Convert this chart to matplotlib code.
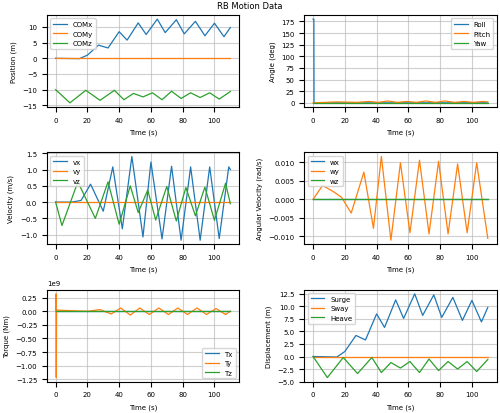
import matplotlib
matplotlib.use('Agg')
import matplotlib.pyplot as plt
from matplotlib.ticker import MultipleLocator

plt.rcParams['font.size'] = 5
plt.rcParams['lines.linewidth'] = 0.9
plt.rcParams['grid.alpha'] = 0.6

# key points (time s, value)
t_comx = [0, 15, 20, 27, 33, 40, 45, 52, 57, 64, 69, 76, 81, 88, 94, 100, 106, 110]
comx = [0, -0.1, 1, 4.2, 3.3, 8.5, 5.8, 11.3, 7.6, 12.5, 8.2, 12.3, 7.8, 11.8, 7.2, 11.2, 6.9, 9.8]
t_comz = [0, 9, 19, 28, 37, 43, 49, 55, 61, 67, 73, 79, 85, 91, 97, 103, 110]
comz = [-10, -14.2, -10.2, -13.4, -10.2, -13.2, -11.2, -12.3, -11, -13.2, -10.5, -12.8, -11, -12.5, -11, -13, -10.6]
t_line = [0, 110]
zero = [0, 0]

t_roll = [0, 0.5, 0.6, 110]
roll = [180, 180, 0, 0]
t_pitch = [0, 15, 28, 35, 41, 47, 53, 59, 65, 71, 77, 83, 89, 95, 101, 107, 110]
pitch = [0, 2, 1, 3, 1, 4, 1, 3, 1, 4, 1, 4, 1, 3, 1, 3, 2]

t_vx = [0, 10, 16, 22, 30, 36, 42, 48, 55, 60, 67, 73, 79, 85, 91, 97, 103, 109, 110]
vx = [0, 0, 0.05, 0.55, -0.28, 1.08, -0.82, 1.4, -1.07, 1.23, -1.13, 1.1, -1.17, 1.08, -1.17, 1.08, -1.12, 1.08, 1.0]
t_vz = [0, 4, 14, 25, 33, 40, 47, 52, 58, 63, 70, 76, 82, 88, 94, 100, 107, 110]
vz = [0, -0.72, 0.62, -0.5, 0.62, -0.68, 0.5, -0.32, 0.37, -0.55, 0.48, -0.58, 0.45, -0.42, 0.46, -0.56, 0.58, -0.05]

t_wy = [0, 6, 13, 18, 24, 32, 38, 43, 49, 55, 61, 67, 73, 79, 85, 91, 97, 103, 110]
wy = [0, 0.0037, 0.002, 0.0005, -0.0037, 0.0073, -0.0078, 0.0115, -0.011, 0.0098, -0.009, 0.0105,
      -0.0093, 0.0102, -0.0093, 0.0095, -0.009, 0.0098, -0.0105]

t_ty = [0, 0.2, 0.4, 0.6, 20, 28, 35, 41, 47, 53, 59, 65, 71, 77, 83, 89, 95, 101, 107, 110]
ty = [0, 0.32e9, -1.22e9, 0.02e9, 0, 0.03e9, -0.05e9, 0.06e9, -0.07e9, 0.06e9, -0.06e9, 0.06e9,
      -0.06e9, 0.06e9, -0.06e9, 0.06e9, -0.06e9, 0.05e9, -0.06e9, 0]

heave = [v + 10 for v in comz]

fig, axs = plt.subplots(3, 2, figsize=(5, 4.14), dpi=100)
fig.suptitle('RB Motion Data', fontsize=6, y=0.995)

ax = axs[0, 0]
ax.plot(t_comx, comx, label='COMx')
ax.plot(t_line, zero, label='COMy')
ax.plot(t_comz, comz, label='COMz')
ax.set_ylabel('Position (m)')
ax.yaxis.set_major_locator(MultipleLocator(5))
ax.legend(loc='upper left')

ax = axs[0, 1]
ax.plot(t_roll, roll, label='Roll')
ax.plot(t_pitch, pitch, label='Pitch')
ax.plot(t_line, zero, label='Yaw')
ax.set_ylabel('Angle (deg)')
ax.yaxis.set_major_locator(MultipleLocator(25))
ax.legend(loc='upper right')

ax = axs[1, 0]
ax.plot(t_vx, vx, label='vx')
ax.plot(t_line, zero, label='vy')
ax.plot(t_vz, vz, label='vz')
ax.set_ylabel('Velocity (m/s)')
ax.yaxis.set_major_locator(MultipleLocator(0.5))
ax.legend(loc='upper left')

ax = axs[1, 1]
ax.plot(t_line, zero, label='wx')
ax.plot(t_wy, wy, label='wy')
ax.plot(t_line, zero, label='wz')
ax.set_ylabel('Angular Velocity (rad/s)')
ax.yaxis.set_major_locator(MultipleLocator(0.005))
ax.legend(loc='upper left')

ax = axs[2, 0]
ax.plot(t_line, zero, label='Tx')
ax.plot(t_ty, ty, label='Ty')
ax.plot(t_line, zero, label='Tz')
ax.set_ylabel('Torque (Nm)')
ax.yaxis.set_major_locator(MultipleLocator(0.25e9))
ax.legend(loc='lower right')

ax = axs[2, 1]
ax.plot(t_comx, comx, label='Surge')
ax.plot(t_line, zero, label='Sway')
ax.plot(t_comz, heave, label='Heave')
ax.set_ylabel('Displacement (m)')
ax.yaxis.set_major_locator(MultipleLocator(2.5))
ax.legend(loc='upper left')

for ax in axs.flat:
    ax.set_xlabel('Time (s)')
    ax.grid(True)

fig.tight_layout(pad=0.5, h_pad=1.2, w_pad=2.5)
fig.savefig('out.png')
